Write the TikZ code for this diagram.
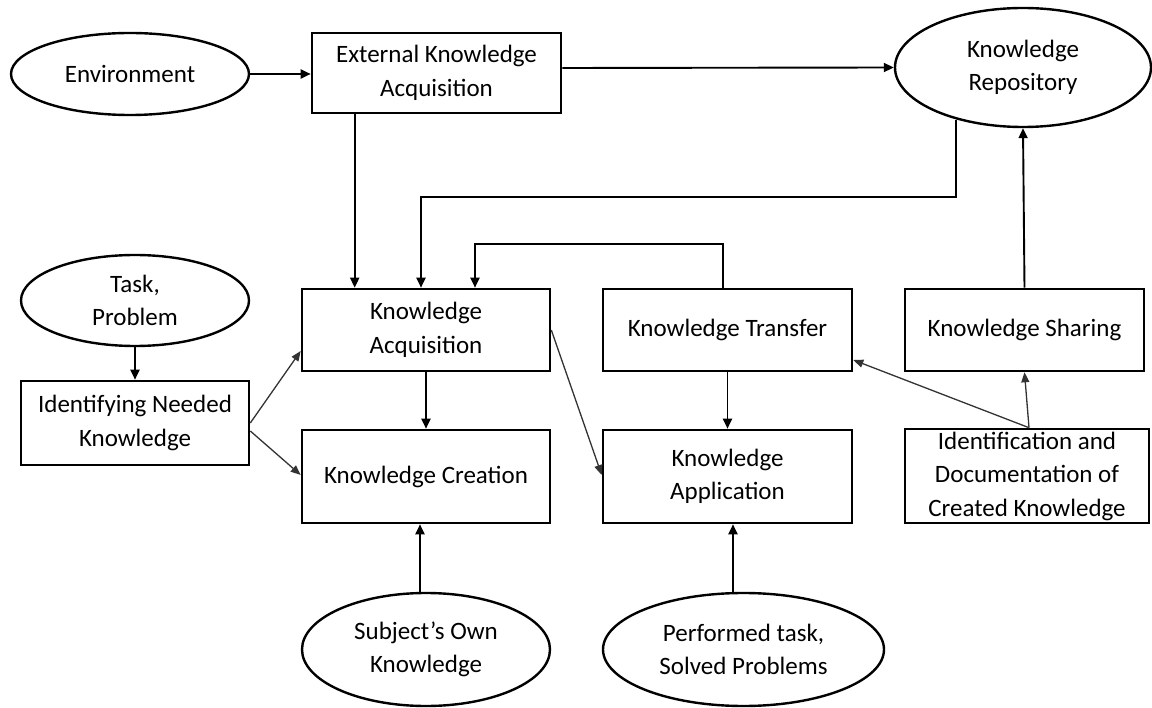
\documentclass[tikz,border=0pt]{standalone}
\usepackage{fontspec}
\setmainfont{Carlito}
\usetikzlibrary{arrows.meta,shapes.geometric,calc}
\tikzset{
  box/.style={draw=black, line width=2.6pt, rectangle, inner sep=0pt, align=center, font=\fontsize{25}{33.5}\selectfont},
  oval/.style={draw=black, line width=2.4pt, ellipse, inner sep=0pt, align=center, font=\fontsize{25}{33.5}\selectfont},
  arr/.style={draw=black, line width=1.9pt, -{Triangle[length=10pt,width=9pt]}},
  darr/.style={draw=black!80, line width=1.3pt, -{Triangle[length=10pt,width=8pt]}},
}
\begin{document}
\begin{tikzpicture}[x=1pt,y=-1pt]
\useasboundingbox[fill=white] (0,0) rectangle (1152,708);
% nodes
\node[oval, minimum width=238pt, minimum height=82pt] (env) at (130,74) {Environment};
\node[box, minimum width=249pt, minimum height=80pt] (eka) at (436.5,73) {External Knowledge\\Acquisition};
\node[oval, minimum width=256pt, minimum height=119pt] (kr) at (1023,67.5) {Knowledge\\Repository};
\node[oval, minimum width=228pt, minimum height=91pt] (task) at (135,300.5) {Task,\\Problem};
\node[box, minimum width=228pt, minimum height=84pt] (ind) at (135,423) {Identifying Needed\\Knowledge};
\node[box, minimum width=248pt, minimum height=82pt] (ka) at (426,330) {Knowledge\\Acquisition};
\node[box, minimum width=248pt, minimum height=93pt] (kc) at (426,476.5) {Knowledge Creation};
\node[box, minimum width=249pt, minimum height=82pt] (kt) at (727.5,330) {Knowledge Transfer};
\node[box, minimum width=249pt, minimum height=93pt] (kapp) at (727.5,476.5) {Knowledge\\Application};
\node[box, minimum width=239pt, minimum height=82pt] (ks) at (1024.5,330) {Knowledge Sharing};
\node[box, minimum width=244pt, minimum height=94pt] (idc) at (1027,476) {Identification and\\Documentation of\\Created Knowledge};
\node[oval, minimum width=248pt, minimum height=113pt] (subj) at (426,649.5) {Subject's Own\\Knowledge};
\node[oval, minimum width=281pt, minimum height=113pt] (perf) at (743.5,649.5) {Performed task,\\Solved Problems};
% bend coordinates
\coordinate (krbend) at (421,197);
\coordinate (ktbend) at (475,244);
% connectors
\draw[arr] (env.east) -- (env.east -| eka.west);
\draw[arr] ([yshift=5pt]eka.east) -- (kr.west);
\draw[arr] ([xshift=44pt]eka.south west) -- ([xshift=44pt]eka.south west |- ka.north);
\draw[arr] (kr.218.8) |- (krbend) -- (krbend |- ka.north);
\draw[arr] ([xshift=-4.5pt]kt.north) |- (ktbend) -- (ktbend |- ka.north);
\draw[arr] (ka.south) -- (kc.north);
\draw[arr] (kt.south) -- (kapp.north);
\draw[arr] (task.south) -- (ind.north);
\draw[darr] (ind.east) -- ([yshift=-21pt]ka.west);
\draw[darr] ([yshift=-8pt]ind.east) -- ([yshift=1.5pt]kc.west);
\draw[darr] (ka.east) -- ([yshift=1.5pt]kapp.west);
\draw[darr] ([xshift=2pt]idc.north) -- ([yshift=-30pt]kt.east);
\draw[darr] ([xshift=2pt]idc.north) -- (ks.south);
\draw[arr] (ks.north) -- (kr.south);
\draw[arr] ([xshift=-6pt]subj.north) -- ([xshift=-6pt]subj.north |- kc.south);
\draw[arr] ([xshift=5.5pt]kapp.south |- perf.north) -- ([xshift=5.5pt]kapp.south);
\end{tikzpicture}
\end{document}
